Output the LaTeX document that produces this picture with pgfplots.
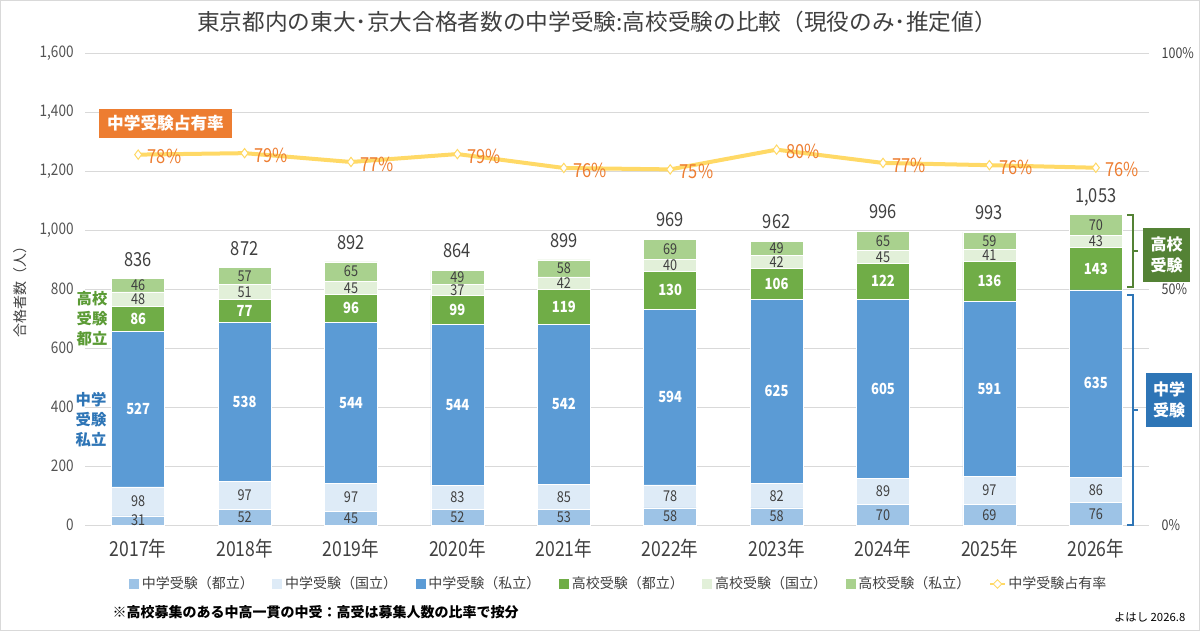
\documentclass[border=0pt]{standalone}
\usepackage{fontspec}
\usepackage{pgfplots}
\usepackage{pgfplotstable}
\pgfplotsset{compat=1.18}
\setmainfont{Noto Sans CJK JP}
\newfontfamily\nf[FakeStretch=0.85]{Noto Sans CJK JP}
\definecolor{c1}{HTML}{9DC3E6}
\definecolor{c2}{HTML}{DEEBF7}
\definecolor{c3}{HTML}{5B9BD5}
\definecolor{c4}{HTML}{70AD47}
\definecolor{c5}{HTML}{E2F0D9}
\definecolor{c6}{HTML}{A9D18E}
\definecolor{lineY}{HTML}{FFD966}
\definecolor{orng}{HTML}{ED7D31}
\definecolor{txt}{HTML}{404040}
\definecolor{gridc}{HTML}{D9D9D9}
\definecolor{dgreen}{HTML}{548235}
\definecolor{dblue}{HTML}{2E75B6}
\definecolor{tgreen}{HTML}{5B9B35}
\pgfplotsset{/pgf/number format/assume math mode=true,
  sqlegend/.style={legend image code/.code={\fill[##1,draw=none] (0pt,-3.75pt) rectangle (7.5pt,3.75pt);}}}
\pgfplotstableread{
x a b c d e f total share
0 31 98 527 86 48 46 836 78.47
1 52 97 538 77 51 57 872 78.78
2 45 97 544 96 45 65 892 76.91
3 52 83 544 99 37 49 864 78.59
4 53 85 542 119 42 58 899 75.64
5 58 78 594 130 40 69 969 75.34
6 58 82 625 106 42 49 962 79.52
7 70 89 605 122 45 65 996 76.71
8 69 97 591 136 41 59 993 76.23
9 76 86 635 143 43 70 1053 75.69
}\data
\begin{document}
\begin{tikzpicture}[x=0.75pt,y=-0.75pt]
\path[use as bounding box] (0,0) rectangle (1200,631);
\draw[gridc, line width=0.75pt] (0.5,0.5) rectangle (1199.5,630.5);
% main bars
\begin{axis}[
  at={(63.75pt,-393.75pt)}, anchor=south west,
  scale only axis, width=798pt, height=354pt,
  xmin=-0.5, xmax=9.5, ymin=0, ymax=1600,
  ybar stacked, bar width=39.75pt,
  xtick={0,...,9},
  xticklabels={2017年,2018年,2019年,2020年,2021年,2022年,2023年,2024年,2025年,2026年},
  ytick={0,200,...,1600},
  ymajorgrids, grid style={gridc, line width=0.75pt},
  axis line style={draw=none},
  major tick length=0pt, tick style={draw=none},
  xticklabel style={font=\nf\fontsize{15.5}{18}\selectfont, text=txt, yshift=-7pt},
  yticklabel style={font=\nf\fontsize{12}{14}\selectfont, text=txt!90, xshift=-5pt},
  scaled y ticks=false,
  /pgf/number format/1000 sep={,},
  legend style={at={(0.502,-0.125)}, anchor=center, draw=none, fill=none,
    legend columns=7, font=\fontsize{10.5}{12}\selectfont, text=txt,
    /tikz/every even column/.append style={column sep=12pt}},
  legend cell align=left,
]
\addplot[fill=c1, draw=white, line width=0.4pt, sqlegend] table[x=x,y=a]{\data};
\addplot[fill=c2, draw=white, line width=0.4pt, sqlegend] table[x=x,y=b]{\data};
\addplot[fill=c3, draw=white, line width=0.4pt, sqlegend] table[x=x,y=c]{\data};
\addplot[fill=c4, draw=white, line width=0.4pt, sqlegend] table[x=x,y=d]{\data};
\addplot[fill=c5, draw=white, line width=0.4pt, sqlegend] table[x=x,y=e]{\data};
\addplot[fill=c6, draw=white, line width=0.4pt, sqlegend] table[x=x,y=f]{\data};
\addlegendimage{legend image code/.code={
  \draw[lineY, line width=1.5pt] (0pt,0pt) -- (11pt,0pt);
  \draw[lineY, fill=white, line width=0.6pt] (5.5pt,-3.2pt) -- (8.7pt,0pt) -- (5.5pt,3.2pt) -- (2.3pt,0pt) -- cycle;}}
\legend{中学受験（都立）,中学受験（国立）,中学受験（私立）,高校受験（都立）,高校受験（国立）,高校受験（私立）,中学受験占有率}
\end{axis}
% share line, right axis
\begin{axis}[
  at={(63.75pt,-393.75pt)}, anchor=south west,
  scale only axis, width=798pt, height=354pt,
  xmin=-0.5, xmax=9.5, ymin=0, ymax=100,
  axis x line=none, axis y line*=right,
  axis line style={draw=none},
  major tick length=0pt, tick style={draw=none},
  xtick=\empty,
  ytick={0,50,100}, yticklabels={0\%,50\%,100\%},
  yticklabel style={font=\nf\fontsize{11}{13}\selectfont, text=txt, anchor=west, xshift=6pt},
]
\addplot[lineY, line width=3pt, mark=diamond*, mark size=3.5pt,
  mark options={fill=white, draw=lineY, line width=0.75pt},
  point meta=explicit,
  nodes near coords={\pgfmathprintnumber[fixed,precision=0]{\pgfplotspointmeta}\%},
  nodes near coords align={west},
  every node near coord/.append style={font=\nf\fontsize{14.5}{16}\selectfont, text=orng, xshift=3.5pt, yshift=-1.5pt}]
  table[x=x, y=share, meta=share]{\data};
\end{axis}
% segment labels
\begin{axis}[
  at={(63.75pt,-393.75pt)}, anchor=south west,
  scale only axis, width=798pt, height=354pt,
  xmin=-0.5, xmax=9.5, ymin=0, ymax=1600, hide axis,
  point meta=explicit, nodes near coords, nodes near coords align={center},
  /pgf/number format/1000 sep={,},
  every node near coord/.append style={font=\nf\fontsize{11.2}{13}\selectfont, text=txt, inner sep=0.2pt, text height=8pt, text depth=0pt},
]
\addplot[draw=none, mark=none] table[x=x, y expr=\thisrow{a}/2, meta=a]{\data};
\addplot[draw=none, mark=none] table[x=x, y expr=\thisrow{a}+\thisrow{b}/2, meta=b]{\data};
\addplot[draw=none, mark=none, every node near coord/.append style={text=white, font=\nf\bfseries\fontsize{11.5}{13}\selectfont}] table[x=x, y expr=\thisrow{a}+\thisrow{b}+\thisrow{c}/2, meta=c]{\data};
\addplot[draw=none, mark=none, every node near coord/.append style={text=white, font=\nf\bfseries\fontsize{11.5}{13}\selectfont}] table[x=x, y expr=\thisrow{a}+\thisrow{b}+\thisrow{c}+\thisrow{d}/2, meta=d]{\data};
\addplot[draw=none, mark=none] table[x=x, y expr=\thisrow{a}+\thisrow{b}+\thisrow{c}+\thisrow{d}+\thisrow{e}/2, meta=e]{\data};
\addplot[draw=none, mark=none] table[x=x, y expr=\thisrow{a}+\thisrow{b}+\thisrow{c}+\thisrow{d}+\thisrow{e}+\thisrow{f}/2, meta=f]{\data};
\addplot[draw=none, mark=none, every node near coord/.append style={font=\nf\fontsize{14.5}{16}\selectfont, yshift=14.5pt, text height=10.6pt}] table[x=x, y=total, meta=total]{\data};
\end{axis}
% annotations
\node[font=\fontsize{17}{20}\selectfont, text=txt] at (597,22) {東京都内の東大･京大合格者数の中学受験:高校受験の比較（現役のみ･推定値）};
\node[rotate=90, font=\fontsize{10.5}{12}\selectfont, text=txt] at (20,288) {合格者数（人）};
\fill[orng] (99,109) rectangle (232,138);
\node[text=white, font=\bfseries\fontsize{12.5}{14}\selectfont] at (165.5,123.5) {中学受験占有率};
\node[align=center, text=tgreen, font=\bfseries\fontsize{11.5}{15}\selectfont] at (92,319) {高校\\受験\\都立};
\node[align=center, text=dblue, font=\bfseries\fontsize{11.5}{15}\selectfont] at (91,420) {中学\\受験\\私立};
\draw[dgreen, line width=1.5pt] (1127,215) -- (1133,215) -- (1133,287) -- (1127,287);
\draw[dgreen, line width=1.5pt] (1133,251) -- (1138,251);
\draw[dblue, line width=1.5pt] (1127,295) -- (1133,295) -- (1133,525) -- (1127,525);
\draw[dblue, line width=1.5pt] (1133,410) -- (1138,410);
\fill[dgreen] (1143,228) rectangle (1190,282);
\node[align=center, text=white, font=\bfseries\fontsize{12}{16}\selectfont] at (1166.5,255) {高校\\受験};
\fill[dblue] (1146,373) rectangle (1192,427);
\node[align=center, text=white, font=\bfseries\fontsize{12}{16}\selectfont] at (1169,400) {中学\\受験};
\node[anchor=west, font=\bfseries\fontsize{10.5}{12}\selectfont] at (108,612) {※高校募集のある中高一貫の中受：高受は募集人数の比率で按分};
\node[anchor=east, font=\fontsize{8.5}{10}\selectfont] at (1190,617) {よはし 2026.8};
\end{tikzpicture}
\end{document}
